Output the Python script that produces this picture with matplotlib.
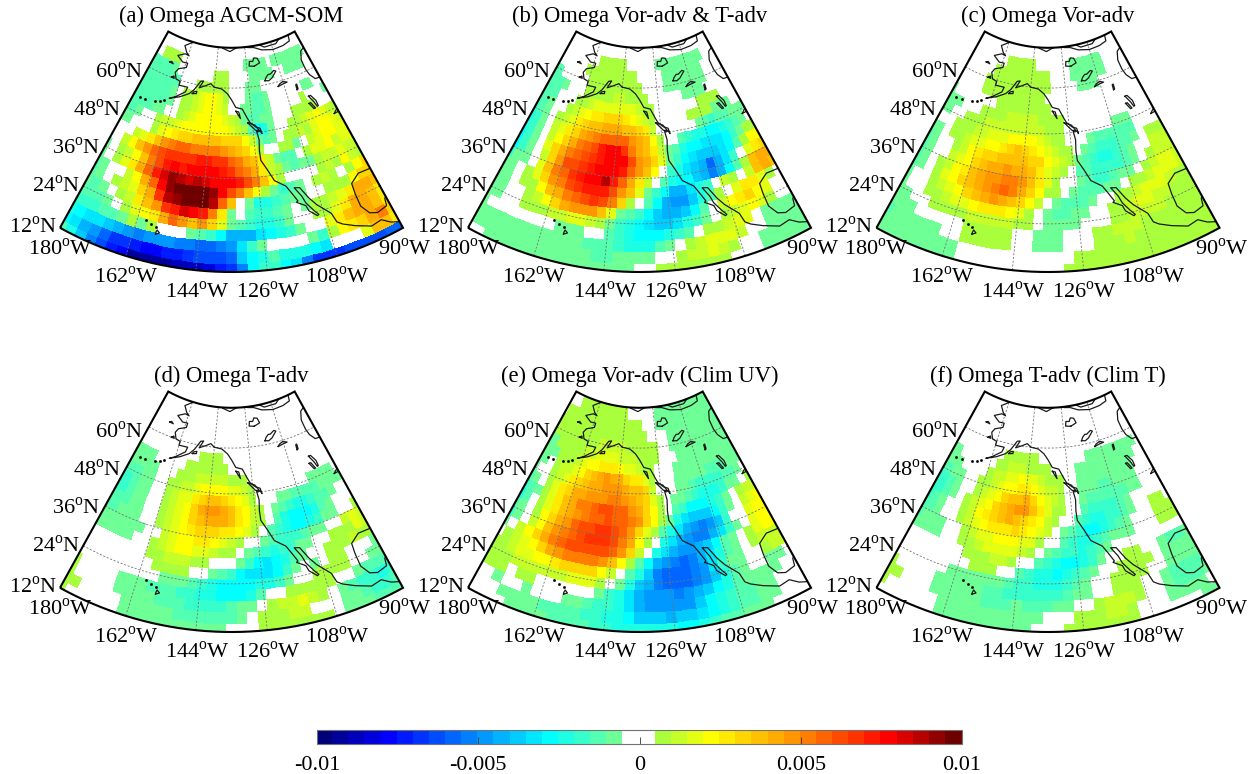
import numpy as np
import matplotlib as mpl
mpl.use('Agg')
import matplotlib.pyplot as plt
from matplotlib.colors import ListedColormap, BoundaryNorm
from matplotlib.patches import PathPatch
from matplotlib.path import Path

# anomalies in units of 0.0005, rows run south to north, columns 180W to 90W
OMEGA_A = [
[-2,-4,-7,-10,-12,-14,-15,-18,-18,-18,-18,-17,-17,-17,-16,-14,-13,-10,-5,-3,-3,-5,-6,-10,-13,-13,-13,-12,-12,-12,-12,-11,-11],
[-5,-6,-8,-9,-11,-13,-13,-14,-15,-15,-14,-14,-13,-12,-12,-12,-11,-7,-5,-4,-2,-4,-4,-4,-5,-6,0,0,0,3,7,7,5],
[-4,-5,-6,-6,-7,-8,-9,-10,-9,-9,-9,-10,-10,-11,-11,-10,-9,-6,-3,-1,0,0,0,0,-1,-3,1,4,5,6,8,10,6],
[-3,-3,-3,-2,-2,-1,1,-1,1,0,0,0,-1,-2,-3,-5,-8,-8,-8,-6,-5,-4,-3,-1,0,0,3,5,7,8,8,7,5],
[-2,-2,-2,-1,0,1,3,4,5,8,11,9,7,9,6,3,-1,-2,-3,-4,-4,-3,-1,0,0,1,1,3,5,8,8,7,5],
[-1,-2,-1,0,1,2,5,7,9,13,14,16,15,14,10,5,-1,0,-2,-3,-3,-2,-1,0,-1,1,1,2,3,5,8,8,7],
[-2,-1,0,1,2,3,6,8,13,17,18,19,19,19,17,11,7,0,-1,-4,-4,-3,-2,-1,-1,0,0,1,1,1,4,6,6],
[-2,-1,0,0,2,4,8,11,15,18,19,19,19,19,18,15,12,10,7,4,1,-1,-3,-2,-1,0,1,2,1,0,1,4,6],
[-1,0,1,3,5,8,11,14,16,18,17,16,17,16,15,15,15,14,12,10,7,4,1,0,0,0,0,1,2,1,4,2,1],
[-1,0,1,2,4,7,10,12,14,15,14,15,15,15,15,14,13,11,10,8,5,2,1,-1,-2,-1,-1,1,2,2,3,2,2],
[0,0,2,4,7,9,11,12,13,13,13,13,14,14,13,13,11,10,8,7,5,2,-1,-2,-2,0,1,3,3,4,2,3,3],
[0,0,0,2,3,5,7,9,10,11,11,10,10,10,10,9,8,7,6,4,1,0,0,1,1,-1,0,2,3,4,4,3,3],
[-1,-1,0,0,0,1,3,4,5,6,6,7,7,7,7,6,6,6,4,2,-1,-2,-1,0,1,1,2,1,3,4,4,3,2],
[-2,-2,-1,0,0,1,2,2,3,4,4,4,4,4,4,4,3,2,1,-2,-5,-4,-1,0,0,1,1,2,3,4,3,2,1],
[-2,-2,-2,-2,-1,-1,0,0,1,2,3,4,4,4,4,3,2,1,-1,-2,-2,-1,-1,0,0,0,1,1,1,1,0,0,0],
[-2,-2,-2,-2,-2,-2,-1,0,1,1,2,3,4,4,3,2,0,0,-1,-1,-2,-2,-1,0,0,0,0,0,1,0,0,0,-1],
[-2,-2,-2,-2,-2,-2,-1,0,1,1,2,3,4,4,3,1,0,0,0,-1,-2,-2,-1,0,0,0,0,0,0,-1,-1,0,0],
[-2,-2,-2,-2,-2,-2,-2,0,0,0,1,1,1,1,1,1,0,0,0,-1,-1,-1,0,0,0,0,0,0,0,0,0,0,0],
[-2,-2,-2,-2,-2,-1,0,0,0,0,0,0,0,1,1,1,0,0,0,0,-1,-1,-1,-1,-1,0,0,-1,-1,-1,-1,0,0],
[0,0,1,1,1,1,0,0,0,0,0,0,0,0,0,0,0,0,0,-1,-1,-1,-1,-1,0,-1,-1,-1,-1,-1,-1,-1,0],
[0,0,0,0,0,0,0,0,0,0,0,0,0,0,0,0,0,0,0,0,0,0,0,0,0,0,0,0,0,0,0,0,0],
]
OMEGA_B = [
[0,0,-1,-1,-1,-1,-1,-1,-1,-1,-1,-1,-1,-1,-1,-1,0,0,1,1,1,1,1,1,1,0,0,0,-1,-1,-1,-1,-1],
[-1,-1,-1,-1,-1,-1,-1,-1,-1,-1,-1,-1,-2,-2,-1,-1,-1,-1,0,0,1,2,2,3,2,1,0,0,-1,-1,-1,-1,-1],
[-1,-1,-1,-1,-1,-1,-1,-1,-1,-1,-1,-2,-2,-2,-3,-4,-4,-4,-2,-1,0,1,2,3,3,3,2,0,0,-1,-1,-1,-1],
[-1,0,0,0,0,0,0,0,-1,-1,-1,0,0,-2,-3,-4,-5,-5,-5,-4,-3,-2,0,1,1,2,3,3,0,-1,-1,-1,-1],
[-1,-1,0,0,1,1,1,2,2,3,3,2,1,-1,-3,-4,-5,-6,-7,-7,-6,-4,-3,-1,0,1,2,3,4,3,1,0,0],
[-1,-1,0,0,1,2,4,6,8,9,9,9,7,3,-1,-2,-3,-5,-7,-8,-8,-7,-5,-2,0,2,4,5,6,4,3,0,0],
[-1,-1,0,1,1,4,7,8,10,11,12,13,12,10,6,1,0,-2,-5,-8,-9,-9,-7,-4,-2,1,0,3,5,5,3,1,0],
[-1,-1,0,1,3,6,9,10,12,13,14,14,14,12,9,7,3,-1,-3,-5,-8,-8,-6,-4,-3,0,2,1,0,2,7,8,7],
[-3,-1,-1,0,3,7,10,11,13,14,15,15,17,14,11,8,5,2,0,-2,-4,-5,-5,-7,-8,-10,-8,-5,-2,1,7,8,8],
[-5,-3,-1,0,2,6,9,12,12,13,14,15,15,15,14,11,9,7,4,0,-3,-4,-6,-7,-8,-11,-8,-6,-3,0,3,5,6],
[-5,-3,-1,0,3,6,8,10,11,12,13,14,15,15,15,12,9,8,6,3,-1,-3,-5,-6,-7,-7,-7,-6,-5,-2,1,4,4],
[-4,-3,-1,0,2,4,6,8,10,11,12,14,15,15,13,10,8,7,5,2,-1,-2,-4,-5,-5,-6,-6,-6,-5,-3,-1,1,1],
[-4,-3,-1,0,2,3,5,6,8,9,10,11,11,11,11,9,8,7,4,1,0,0,-2,-3,-4,-4,-5,-5,-4,-3,-2,-1,0],
[-3,-2,-1,0,1,2,3,5,6,7,7,8,8,8,7,7,6,5,2,0,0,0,0,0,0,-1,-2,-3,-2,-2,-1,-1,-1],
[-2,-2,-1,0,0,1,2,3,4,5,5,6,6,6,5,4,3,2,1,0,0,0,0,0,1,1,1,1,-1,-1,-1,0,0],
[-2,-2,-2,0,0,0,1,1,2,3,3,3,3,3,3,3,2,1,1,0,0,0,0,0,0,0,1,1,1,1,0,0,0],
[-2,-2,-2,-1,0,0,0,1,1,1,1,1,2,2,1,1,1,1,0,0,0,0,0,0,-1,-1,-1,-1,0,0,0,0,0],
[-2,-2,0,0,0,0,0,1,1,1,1,1,1,1,1,1,1,0,0,0,0,-1,-1,-1,-1,-1,-1,-1,-1,0,0,0,0],
[0,0,0,0,0,0,1,1,1,1,1,1,1,1,1,1,0,0,0,0,0,-1,-1,-1,-1,-1,-1,-1,-1,0,0,0,0],
[0,0,0,0,0,0,0,0,1,1,1,1,1,1,0,0,0,0,0,0,-1,-1,-1,-1,-1,-1,-1,-1,-1,-1,0,0,0],
[0,0,0,0,0,0,0,0,0,0,0,0,0,0,0,0,0,0,0,0,0,0,0,0,0,0,0,0,0,0,0,0,0],
]
OMEGA_C = [
[-1,-1,-1,-1,-1,-1,-1,-1,0,0,0,0,0,0,0,0,0,0,1,1,1,1,1,1,1,1,1,1,1,1,1,1,1],
[-1,-1,-1,-1,-1,-1,-1,-1,0,0,0,0,0,0,0,0,0,0,0,1,1,1,1,1,1,1,1,1,1,1,1,1,1],
[-2,-1,-1,-1,-1,-1,0,0,1,1,1,1,1,0,0,-1,-1,-1,0,0,0,1,1,1,2,1,1,1,1,1,1,1,1],
[-1,-1,-1,0,0,0,0,0,1,1,1,1,1,0,0,-1,-1,-1,0,0,0,1,1,2,2,2,1,1,1,1,1,1,1],
[-1,-1,0,0,1,1,1,1,2,2,2,2,2,1,1,0,-1,-1,-1,-1,0,0,0,1,1,2,2,2,2,1,1,1,1],
[-1,0,0,1,1,2,3,3,4,5,5,5,4,3,1,0,-1,-2,-2,-1,-1,0,0,1,1,2,3,3,2,2,1,1,1],
[-1,0,0,1,2,3,4,6,7,8,9,8,7,6,4,2,0,-1,-2,-2,-2,-1,0,0,1,1,2,3,3,3,2,1,1],
[-2,-1,0,1,3,4,6,7,8,9,10,11,10,8,6,4,1,1,0,-1,-2,-2,-2,-1,-1,0,1,1,2,3,3,3,2],
[-2,-1,0,1,2,4,5,7,8,9,9,10,10,9,7,5,3,1,0,0,-1,-2,-3,-3,-2,-1,-1,0,1,2,3,3,2],
[-2,-1,0,0,2,3,4,6,7,8,8,9,8,8,7,5,3,2,1,0,-2,-2,-3,-3,-3,-3,-2,-1,0,1,2,2,2],
[-2,-1,0,0,1,2,4,5,6,6,7,7,7,7,6,6,4,3,2,1,-1,-2,-3,-4,-4,-3,-2,-1,0,0,2,2,2],
[-1,-1,0,1,1,2,3,3,4,4,5,6,7,6,5,4,3,2,1,1,0,-1,-2,-3,-3,-3,-2,-2,-1,0,1,1,1],
[0,0,0,1,1,1,2,2,3,3,3,4,4,4,4,3,2,1,1,0,0,0,-1,-2,-2,-2,-2,-2,-2,0,0,0,0],
[-1,-1,0,0,1,1,1,2,2,2,2,2,2,2,2,2,1,1,1,0,0,0,0,0,0,0,-1,-1,-1,0,0,0,0],
[-1,-1,-1,0,0,0,1,1,1,1,2,2,2,2,2,1,1,1,1,0,0,0,0,0,0,0,0,0,0,0,0,0,0],
[-1,0,0,0,0,0,0,0,1,1,1,1,1,1,1,1,1,0,0,0,0,0,0,0,0,0,0,0,0,0,0,0,0],
[0,0,0,0,0,1,1,1,1,1,1,1,1,1,1,1,0,0,0,0,0,0,0,0,0,0,0,0,0,0,0,0,0],
[0,0,0,0,0,1,1,1,1,1,1,1,1,1,1,1,1,0,0,0,0,0,-1,-1,-1,-1,0,0,0,0,0,0,0],
[0,0,0,0,0,0,1,1,1,1,1,1,1,1,1,1,1,0,0,0,0,-1,-1,-1,-1,-1,-1,-1,0,0,0,0,0],
[0,0,0,0,0,0,0,0,1,1,1,1,1,1,0,0,0,0,0,0,0,-1,-1,-1,-1,-1,-1,-1,0,0,0,0,0],
[0,0,0,0,0,0,0,0,0,0,0,0,0,0,0,0,0,0,0,0,0,0,0,0,0,0,0,0,0,0,0,0,0],
]
OMEGA_D = [
[1,0,0,0,0,0,-1,-1,-1,-1,-1,-1,-1,-1,-1,-1,0,0,0,1,1,1,1,1,1,1,0,-1,-1,-1,-2,-2,-2],
[1,1,0,0,0,0,-1,-1,-1,-1,-1,-2,-2,-2,-2,-2,-2,-1,0,1,1,1,2,2,0,0,0,-1,-1,-2,-3,-3,-2],
[1,0,0,0,0,-1,-1,-1,-1,-2,-2,-2,-3,-3,-3,-3,-2,-1,-1,0,1,2,2,3,2,1,0,-1,-2,-3,-3,-4,-3],
[1,0,0,0,0,-1,-1,-1,-2,-2,-2,-3,-3,-4,-4,-5,-5,-5,-4,-2,0,0,1,1,1,1,1,0,0,-1,-2,-2,-2],
[0,0,0,0,0,0,0,0,0,-1,-1,-1,-2,-3,-4,-5,-5,-5,-5,-4,-4,-3,-1,0,0,1,1,1,1,0,0,-1,-1],
[0,0,0,0,0,0,0,0,1,1,1,1,0,0,-1,-2,-3,-5,-6,-6,-6,-5,-3,-1,0,-1,0,1,1,0,0,0,-1],
[0,0,0,0,0,0,0,1,1,2,2,2,1,1,0,0,0,-1,-3,-5,-6,-5,-4,-2,-1,0,0,1,1,1,2,1,1],
[-1,-1,-1,-1,-1,0,0,1,2,3,4,4,3,3,2,1,1,0,-1,-2,-3,-4,-3,-3,-1,-1,0,0,1,1,1,3,2],
[-1,-1,-1,-1,-1,-1,0,0,2,3,4,4,5,5,4,3,2,1,0,0,-1,-2,-3,-3,-3,-2,-1,-1,0,0,2,3,2],
[-2,-2,-1,-1,-1,0,0,1,2,3,4,5,6,6,6,5,5,4,3,1,0,-2,-3,-4,-5,-5,-4,-3,-1,-1,0,0,1],
[-2,-2,-2,-1,-1,0,0,1,2,3,4,6,7,8,8,8,7,5,4,2,1,0,-2,-4,-5,-5,-5,-4,-2,-1,0,0,0],
[-3,-3,-2,-1,-1,0,0,1,2,3,4,6,8,9,9,8,7,5,4,2,1,0,-1,-2,-3,-4,-4,-3,-2,-2,-1,0,0],
[-3,-3,-2,-1,-1,0,0,1,2,3,3,5,6,7,7,6,5,4,3,1,0,0,0,-1,-1,-2,-2,-2,-2,-1,-1,-1,-1],
[-2,-2,-2,-1,-1,0,0,1,1,2,2,3,4,4,4,4,3,3,2,1,0,0,0,0,0,0,0,0,-1,-1,-1,-1,0],
[-1,-1,-1,-1,-1,0,0,0,1,1,1,2,2,2,2,2,1,1,1,0,0,0,0,0,0,0,0,0,0,0,0,0,0],
[-1,-1,-1,-1,0,0,0,0,0,1,1,1,1,1,1,1,0,0,0,0,0,0,0,0,0,0,0,0,0,0,0,0,0],
[0,0,0,0,0,0,0,0,0,0,0,1,1,1,1,0,0,0,0,0,0,0,0,0,0,0,0,0,0,0,0,0,0],
[0,0,0,0,0,0,0,0,0,0,0,0,0,0,0,0,0,0,0,0,0,0,0,0,0,0,0,0,0,0,0,0,0],
[0,0,0,0,0,0,0,0,0,0,0,0,0,0,0,0,0,0,0,0,0,0,0,0,0,0,0,0,0,0,0,0,0],
[0,0,0,0,0,0,0,0,0,0,0,0,0,0,0,0,0,0,0,0,0,0,0,0,0,0,0,0,0,0,0,0,0],
[0,0,0,0,0,0,0,0,0,0,0,0,0,0,0,0,0,0,0,0,0,0,0,0,0,0,0,0,0,0,0,0,0],
]
OMEGA_E = [
[0,0,0,0,-1,-1,-1,-1,-2,-2,-2,-2,-3,-3,-4,-4,-4,-4,-4,-4,-5,-5,-4,-3,-2,-2,-1,-1,-1,0,0,0,0],
[0,0,0,-1,-1,-1,-1,-2,-2,-2,-2,-3,-3,-4,-4,-5,-7,-7,-7,-8,-7,-7,-6,-5,-4,-3,-2,-2,-1,-1,0,0,0],
[0,0,-1,0,0,-1,0,0,0,-1,-1,-2,-3,-3,-4,-6,-8,-9,-9,-9,-9,-9,-7,-5,-4,-3,-2,-2,-1,-1,0,0,0],
[1,1,1,0,1,1,0,0,0,0,0,0,-1,-3,-4,-6,-8,-9,-9,-9,-10,-9,-8,-7,-5,-4,-2,-1,-1,-1,-1,0,0],
[1,1,1,2,2,2,2,2,2,3,3,3,1,0,-1,-4,-7,-8,-10,-11,-11,-11,-10,-9,-7,-4,-2,-1,0,0,-1,-1,0],
[1,1,2,3,3,4,4,5,6,6,6,6,4,2,0,-2,-4,-7,-10,-11,-11,-11,-10,-9,-6,-3,-1,-1,0,0,1,2,2],
[0,1,2,3,4,6,8,9,10,10,10,10,9,7,4,1,-2,-5,-8,-9,-10,-11,-10,-8,-6,-4,-2,-1,0,1,2,2,2],
[-1,0,2,4,6,8,10,11,12,12,12,12,12,11,9,6,2,0,-4,-6,-8,-9,-9,-8,-7,-5,-2,-1,0,1,3,4,4],
[-3,-1,0,2,4,7,9,10,11,12,13,13,13,12,10,8,4,1,0,-4,-6,-8,-9,-10,-10,-8,-6,-3,-1,0,3,4,4],
[-2,-1,0,1,4,6,8,9,11,12,12,13,13,12,11,9,6,3,1,-2,-4,-6,-8,-9,-10,-9,-7,-3,0,0,3,4,4],
[-4,-2,0,1,3,5,7,8,9,10,11,11,12,11,11,10,9,6,4,1,-1,-4,-6,-7,-7,-7,-5,-3,-1,0,2,3,4],
[-3,-2,-1,1,3,5,7,8,10,10,11,12,12,11,11,9,8,6,4,1,0,-2,-3,-5,-5,-5,-4,-3,-1,0,1,2,2],
[-2,-1,0,1,3,5,6,8,8,9,9,9,10,10,9,8,7,6,3,1,0,-1,-1,-2,-3,-4,-4,-4,-3,-1,-1,0,1],
[-1,0,0,1,2,3,5,6,7,8,8,9,9,9,8,7,7,6,2,0,0,0,-1,-1,-2,-3,-3,-3,-3,-2,-2,-1,0],
[-1,-1,0,1,2,2,3,4,6,7,8,9,8,8,6,5,5,3,1,0,0,0,-1,-1,-1,-1,-1,-2,-2,-2,-1,-1,-1],
[-1,-1,-1,1,1,1,2,3,4,4,5,5,5,4,3,3,2,1,1,0,0,0,-1,-1,-1,-1,-1,-1,-1,-1,-1,-1,-1],
[-1,-1,1,1,1,1,1,2,2,3,3,3,3,2,2,2,1,1,1,1,0,0,0,-1,-1,-1,-1,-1,-1,-1,-1,-1,-1],
[1,1,1,1,1,1,1,1,1,2,2,2,2,2,1,1,1,1,1,1,0,0,-1,-1,-1,-1,-1,-1,-1,-1,-1,-1,-1],
[1,1,1,1,1,1,1,1,1,1,1,1,1,1,1,1,1,1,0,0,0,0,-1,-1,-1,-1,-1,-1,-1,-1,-1,-1,-1],
[0,1,1,1,1,1,1,1,1,1,1,1,1,1,1,1,1,0,0,0,-1,-1,-1,-1,-1,-1,-1,-1,-1,-1,-1,-1,-1],
[0,0,0,1,1,1,1,1,1,1,1,1,1,1,0,0,0,0,0,0,-1,-1,-1,-1,-1,-1,-1,-1,-1,-1,-1,-1,-1],
]
OMEGA_F = [
[0,0,0,0,0,0,-1,-1,-1,-1,-1,-1,-1,-1,-1,0,0,0,1,1,1,1,1,1,1,0,0,0,0,0,0,-1,-1],
[1,0,0,0,0,0,-1,-1,-1,-1,-1,-1,-1,-1,-1,-1,0,0,0,1,1,1,2,2,1,0,0,0,-1,-1,-1,-1,0],
[1,1,0,0,0,-1,-1,-1,-1,-1,-2,-2,-2,-1,-2,-2,-2,-1,-1,0,0,1,2,2,2,1,0,0,-1,-2,-2,-2,-1],
[1,0,0,0,0,-1,-1,-1,-1,-1,-2,-2,-3,-3,-3,-3,-3,-3,-2,-1,-1,0,0,1,1,1,0,0,-1,-2,-2,-2,-2],
[0,0,0,0,0,0,-1,-1,-1,-1,-1,-1,-2,-3,-3,-4,-4,-4,-3,-2,-1,0,0,1,1,1,1,0,0,-1,-1,-1,-1],
[0,0,0,0,0,0,0,0,1,1,1,0,0,-2,-3,-4,-4,-5,-4,-3,-2,-1,0,0,1,1,1,1,0,-1,-1,-1,-1],
[0,0,0,0,0,0,0,1,1,1,2,2,1,0,0,-2,-3,-4,-5,-5,-4,-3,-1,0,0,1,1,0,0,-1,-2,-2,-1],
[-1,-1,-1,-1,0,0,1,1,2,3,3,3,3,2,1,0,-1,-2,-3,-3,-4,-3,-2,-1,0,0,0,0,0,0,0,0,0],
[-2,-1,-1,-1,0,0,1,2,3,3,4,4,4,3,3,1,0,0,-2,-3,-4,-4,-3,-2,-1,-1,-1,0,0,0,1,1,1],
[-2,-2,-1,0,0,1,2,3,4,5,5,5,6,5,4,3,2,0,-1,-2,-3,-5,-5,-4,-3,-2,-1,0,0,0,1,1,1],
[-3,-2,-1,0,0,1,2,4,5,6,7,8,7,6,5,4,2,1,0,0,-2,-3,-4,-4,-3,-3,-2,-1,0,0,1,1,0],
[-3,-3,-2,-1,0,1,2,3,4,6,7,8,9,9,7,5,3,1,1,0,0,-2,-3,-3,-3,-3,-2,-1,0,0,0,0,0],
[-3,-3,-2,-1,0,0,1,2,3,4,6,7,7,8,6,4,3,2,1,0,0,-1,-2,-2,-2,-2,-2,-2,-1,-1,0,0,0],
[-2,-2,-1,-1,0,0,1,1,2,3,4,4,5,5,4,3,2,2,1,0,0,-1,-1,-1,-2,-2,-1,-1,-1,-1,0,0,0],
[-1,-1,-1,0,0,0,0,1,2,2,3,3,4,3,3,2,1,1,1,0,0,-1,-1,-1,-1,-1,-1,-1,-1,-1,0,0,0],
[-1,-1,0,0,0,0,0,0,1,1,2,2,2,1,1,1,1,0,0,0,0,-1,-1,-1,-1,-1,-1,-1,-1,-1,-1,0,0],
[0,0,0,0,0,0,0,0,0,1,1,1,1,1,1,0,0,0,0,0,0,0,0,-1,-1,-1,-1,-1,-1,-1,-1,-1,0],
[0,0,0,0,0,0,0,0,0,0,0,0,0,0,0,0,0,0,0,0,0,0,0,0,0,0,0,0,0,0,0,0,0],
[0,0,0,0,0,0,0,0,0,0,0,0,0,0,0,0,0,0,0,0,0,0,0,0,0,0,0,0,0,0,0,0,0],
[0,0,0,0,0,0,0,0,0,0,0,0,0,0,0,0,0,0,0,0,0,0,0,0,0,0,0,0,0,0,0,0,0],
[0,0,0,0,0,0,0,0,0,0,0,0,0,0,0,0,0,0,0,0,0,0,0,0,0,0,0,0,0,0,0,0,0],
]
TITLES = ['(a) Omega AGCM-SOM', '(b) Omega Vor-adv & T-adv', '(c) Omega Vor-adv',
          '(d) Omega T-adv', '(e) Omega Vor-adv (Clim UV)', '(f) Omega T-adv (Clim T)']

LAT_TICKS = [12, 24, 36, 48, 60]
LON_TICKS = [180, 162, 144, 126, 108, 90]
CBAR_TICKS = [-0.01, -0.005, 0, 0.005, 0.01]
CBAR_LABELS = ['-0.01', '-0.005', '0', '0.005', '0.01']

# coastlines, lon/lat
MAINLAND = [(-165,70),(-162,69.6),(-166,68.4),(-163.5,67),(-161.5,66.4),(-164,66.6),(-168,65.6),(-164,64.5),(-161,64.6),
            (-161,63.5),(-165,62.6),(-166,61.5),(-164.5,60),(-162,59.7),(-162,58.7),(-157.5,58.8),(-158,57.5),(-162,55.6),(-164.5,54.7),
            (-160,55.9),(-156,57.3),(-154,58.6),(-153,59.6),(-151.5,61),(-150,61.2),(-151.7,59.3),(-149,60),(-146,60.8),(-144,60),
            (-140,59.7),(-137,58.5),(-135,57),(-133,55),(-130,54.5),(-128,52),(-127,50.8),(-124.8,49.5),(-123,49),(-122.5,47.5),(-123,48.2),
            (-124.6,48.3),(-124,46),(-124.4,43),(-124.3,40.4),(-122.5,37.8),(-120.6,34.5),(-117.2,32.5),(-115.8,30.3),(-114.5,28),(-115,27.7),
            (-112.5,26.3),(-112,24.8),(-110,23),(-109.5,23.2),(-110.6,24.6),(-112.3,27),(-113,29),(-114.7,31.6),(-113,31.3),(-111,28),(-109.3,25.8),
            (-106,22.5),(-105.3,20),(-104,19),(-101,17.5),(-97,15.8),(-94,16.2),(-92,14.6),(-90,13.7)]
GULF = [(-89.5,21.3),(-90.5,20.5),(-91,18.7),(-94,18.2),(-96,19),(-97.5,21.5),(-97.5,25),(-97.2,27.8),(-94,29.5),(-90,29.2),(-89,30)]
ARCTIC = [(-141,69.6),(-136,68.9),(-133,69.5),(-128,70.2),(-124,69.6),(-120,69.4),(-115,68.5),(-108,67.9),(-101,68),(-96,68.4),(-95,70)]
ARCTIC_2 = [(-117,70),(-113,69),(-105,69),(-101,70)]
HUDSON = [(-90,65.5),(-92.5,65),(-94.5,63),(-94.6,60.5),(-94,58.8),(-92.3,57.2),(-90,57)]
ISLANDS = [
    [(-171,63.4),(-168.7,63.3),(-170,63.7),(-171,63.4)],
    [(-167,60),(-165.5,60),(-166,60.5),(-167,60)],
    [(-154.5,57.5),(-152.5,57.7),(-152.5,58.3),(-154,58),(-154.5,57.5)],
    [(-133,54),(-131.7,53.8),(-131,52),(-132,53),(-133,54)],
    [(-128,50.8),(-125,50),(-123.4,48.4),(-125,48.6),(-128,50.8)],
    [(-156,19.1),(-155,19.6),(-155.8,20.2),(-156,19.6),(-156,19.1)],
    [(-121.5,65),(-118,65.6),(-119,66.8),(-121,67),(-122,66.2),(-124,66.3),(-124.5,65.2),(-121.5,65)],
    [(-117,61),(-115,60.8),(-113,61.3),(-110,62.7),(-111,63),(-113.5,62.3),(-114.5,62.4),(-116,61.8),(-117,61)],
    [(-111,58.8),(-108,59.1),(-106,59.2),(-108,59.7),(-110,59.3),(-111,58.8)],
    [(-102.6,56.5),(-102,56.6),(-101.8,57.9),(-102.4,57.8),(-102.6,56.5)],
    [(-98.8,53.8),(-97.8,53.8),(-96.5,52),(-96.5,50.5),(-97,50.4),(-97.5,51.8),(-98.8,53.8)],
    [(-99.8,52),(-99,52),(-98,50.2),(-98.7,50.2),(-99.8,52)],
    [(-92,46.7),(-90,46.7),(-90,47.6),(-91,47.2),(-92,46.7)],
]
DOTS_LON = [-156.4, -157.9, -159.5, -174.5, -177, -170, -168, -166.5]
DOTS_LAT = [20.8, 21.4, 22.0, 52.2, 51.9, 52.8, 53.3, 53.8]

# T42 grid cell edges
LAT_EDGES = 11.16 + 2.79 * np.arange(22)
LON_EDGES = -181.41 + 2.8125 * np.arange(34)

plt.rcParams['font.family'] = ['Liberation Serif', 'DejaVu Serif']
plt.rcParams['mathtext.fontset'] = 'custom'
plt.rcParams['mathtext.rm'] = 'Liberation Serif'

N_ANG = 0.642
N_RAD = 0.66
R12 = 355.0
TOP_LAT = 69.77
W, H = 1256, 774


def project(lon, lat):
    lon = np.asarray(lon, float)
    lat = np.asarray(lat, float)
    r = R12 * (np.tan(np.radians(90 - lat) / 2) / np.tan(np.radians(39))) ** N_RAD
    a = np.radians(N_ANG * (lon + 135))
    return r * np.sin(a), -r * np.cos(a)


def make_cmap():
    idx = [0, 4, 14, 18]
    col = [(0, 0, 120), (0, 0, 255), (0, 255, 255), (110, 255, 150)]
    idx2 = [21, 24, 29, 35, 39]
    col2 = [(170, 255, 60), (255, 255, 0), (255, 150, 0), (255, 0, 0), (110, 0, 0)]
    colors = []
    for i in range(40):
        if i <= 18:
            c = [np.interp(i, idx, [p[k] for p in col]) for k in range(3)]
        elif i <= 20:
            c = [255, 255, 255]
        else:
            c = [np.interp(i, idx2, [p[k] for p in col2]) for k in range(3)]
        colors.append(tuple(v / 255 for v in c))
    return ListedColormap(colors)


def deg(v, h):
    return str(v) + r'$^{\mathrm{o}}$' + h


cmap = make_cmap()
norm = BoundaryNorm(np.linspace(-0.01, 0.01, 41), 40)

fig = plt.figure(figsize=(W / 100, H / 100), dpi=100)

panels = [OMEGA_A, OMEGA_B, OMEGA_C, OMEGA_D, OMEGA_E, OMEGA_F]
centers = [231.5, 639.5, 1048.0] * 2
tops = [0, 0, 0, 360, 360, 360]
APEX = -83
lon_offs = [-171.5, -105.5, -34.5, 36.5, 105.5, 173.5]
lon_ys = [249, 277, 292, 292, 277, 249]
lat_rights = [-174.5, -151.5, -131, -110.5, -88.5]
lat_ys = [227, 186, 148, 110, 72]

for k in range(6):
    cx, top = centers[k], tops[k]
    ax = fig.add_axes([(cx - 215) / W, 1 - (top + 320) / H, 430 / W, 320 / H])
    ax.set_xlim(-215, 215)
    ax.set_ylim(-(320 - APEX), APEX)
    ax.axis('off')

    rows = np.array([(list(r) + [0] * 33)[:33] for r in panels[k]], float)
    values = (rows + 0.5 * np.sign(rows)) * 0.0005
    xe, ye = np.meshgrid(LON_EDGES, LAT_EDGES)
    px, py = project(xe, ye)
    mesh = ax.pcolormesh(px, py, values, cmap=cmap, norm=norm, shading='flat')

    # outline of the map, also used to clip
    lon_line = np.linspace(-180, -90, 120)
    bx1, by1 = project(lon_line, np.full(120, 12.0))
    bx2, by2 = project(lon_line[::-1], np.full(120, TOP_LAT))
    bx = np.r_[bx1, bx2, bx1[0]]
    by = np.r_[by1, by2, by1[0]]
    clip = PathPatch(Path(np.c_[bx, by]), facecolor='none', edgecolor='black', lw=1.5, zorder=6)
    ax.add_patch(clip)
    mesh.set_clip_path(clip)

    grid_kw = dict(color='0.45', lw=0.6, ls=(0, (2.5, 2)), zorder=3)
    for lat in LAT_TICKS:
        gx, gy = project(lon_line, np.full(120, float(lat)))
        ax.plot(gx, gy, **grid_kw)
    for lon in LON_TICKS[1:-1]:
        gx, gy = project(np.full(50, -float(lon)), np.linspace(12, TOP_LAT, 50))
        ax.plot(gx, gy, **grid_kw)

    for line in [MAINLAND, GULF, ARCTIC, ARCTIC_2, HUDSON] + ISLANDS:
        lons, lats = zip(*line)
        cx_, cy_ = project(lons, lats)
        ln, = ax.plot(cx_, cy_, color='0.1', lw=0.9, zorder=4)
        ln.set_clip_path(clip)
    dx_, dy_ = project(DOTS_LON, DOTS_LAT)
    ax.plot(dx_, dy_, ls='none', marker='s', ms=0.9, color='black', zorder=4)

    ax.text(0, APEX - 16, TITLES[k], ha='center', va='center', fontsize=16.3)
    for v, off, y in zip(LON_TICKS, lon_offs, lon_ys):
        ax.text(off, APEX - y, deg(v, 'W'), ha='center', va='center', fontsize=16)
    for v, off, y in zip(LAT_TICKS, lat_rights, lat_ys):
        ax.text(off, APEX - y, deg(v, 'N'), ha='right', va='center', fontsize=16)

cax = fig.add_axes([317 / W, 1 - 744 / H, 645 / W, 14 / H])
cb = fig.colorbar(mesh, cax=cax, orientation='horizontal', ticks=CBAR_TICKS, spacing='uniform')
cb.minorticks_off()
cb.ax.set_xticklabels(CBAR_LABELS, fontsize=16)
cb.ax.tick_params(direction='in', length=5, width=0.6, pad=9, color='0.2')
cb.outline.set_edgecolor('0.45')
cb.outline.set_linewidth(0.8)
cb.solids.set_edgecolor('face')

fig.savefig('out.png', dpi=100)
